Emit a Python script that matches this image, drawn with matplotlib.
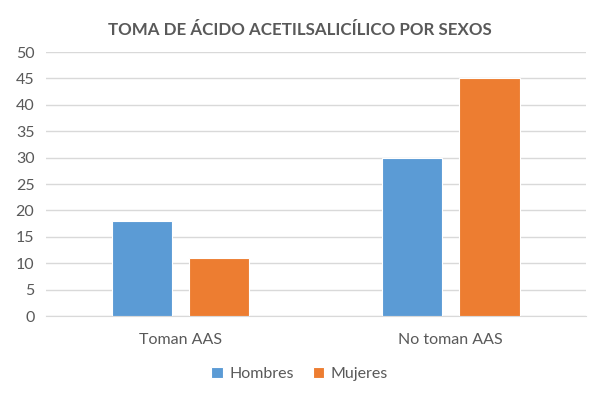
import matplotlib
matplotlib.use("Agg")
import matplotlib.pyplot as plt
import numpy as np

# ---------- data ----------
categories = ["Toman AAS", "No toman AAS"]
hombres = [18, 30]
mujeres = [11, 45]
series_names = ["Hombres", "Mujeres"]
yticks = list(range(0, 55, 5))

plt.rcParams["font.family"] = ["Lato", "DejaVu Sans"]

fig = plt.figure(figsize=(5.99, 3.97), dpi=100)
ax = fig.add_axes([0.076, 0.204, 0.902, 0.665])

x = np.arange(len(categories))
w = 0.223
gap = 0.032
ax.bar(x - w / 2 - gap, hombres, w, color="#5B9BD5", edgecolor="white", linewidth=0.8,
       label=series_names[0], zorder=3)
ax.bar(x + w / 2 + gap, mujeres, w, color="#ED7D31", edgecolor="white", linewidth=0.8,
       label=series_names[1], zorder=3)

ax.set_xlim(-0.5, 1.5)
ax.set_ylim(0, 50)
ax.set_yticks(yticks)
ax.set_xticks(x)
ax.set_xticklabels(categories)
ax.yaxis.grid(True, color="#D9D9D9", linewidth=1, zorder=0)
for s in ["top", "right", "left"]:
    ax.spines[s].set_visible(False)
ax.spines["bottom"].set_color("#D9D9D9")
ax.tick_params(axis="both", length=0, labelsize=11.5, colors="#595959", pad=8)
ax.tick_params(axis="x", pad=12)

fig.text(0.5, 0.925, "TOMA DE ÁCIDO ACETILSALICÍLICO POR SEXOS", ha="center", va="center",
         fontsize=12.2, fontweight="bold", color="#595959")

fig.legend(loc="center", bbox_to_anchor=(0.5, 0.058), ncol=2, frameon=False,
           fontsize=11.5, handlelength=0.7, handleheight=0.7, handletextpad=0.4,
           columnspacing=1.2, labelcolor="#595959")

fig.savefig("out.png", dpi=100)
